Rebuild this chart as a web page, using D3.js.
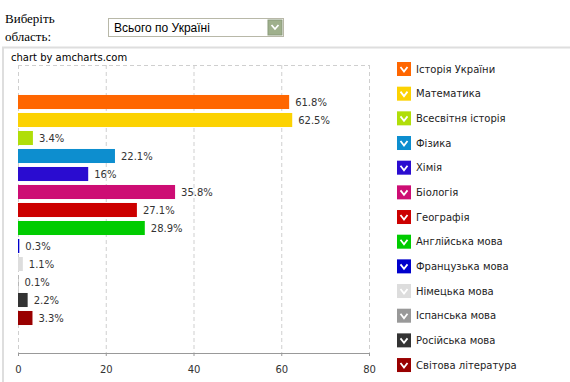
<!DOCTYPE html>
<html>
<head>
    <meta charset="utf-8">
    <title>ЗНО</title>
    <script src="https://cdn.jsdelivr.net/npm/d3@7/dist/d3.min.js"></script>
    <style>
        body { margin: 0; background: #fff; }
    </style>
</head>
<body>
    <svg width="570" height="382" id="mainSvg"></svg>
    <script>
        const subjects = ["Історія України", "Математика", "Всесвітня історія", "Фізика", "Хімія",
            "Біологія", "Географія", "Англійська мова", "Французька мова", "Німецька мова",
            "Іспанська мова", "Російська мова", "Світова література"];
        const values = [61.8, 62.5, 3.4, 22.1, 16, 35.8, 27.1, 28.9, 0.3, 1.1, 0.1, 2.2, 3.3];
        const colors = ["#FF6600", "#FCD202", "#B0DE09", "#0D8ECF", "#2A0CD0", "#CD0D74", "#CC0000",
            "#00CC00", "#0000CC", "#DDDDDD", "#999999", "#333333", "#990000"];
        const xTicks = [0, 20, 40, 60, 80];

        const svg = d3.select("#mainSvg");
        const font = "DejaVu Sans, Verdana, sans-serif";

        // header with the region selector
        svg.append("text").attr("x", 5).attr("y", 23)
            .attr("font-family", "Liberation Serif, serif").attr("font-size", 13).text("Виберіть");
        svg.append("text").attr("x", 5).attr("y", 41)
            .attr("font-family", "Liberation Serif, serif").attr("font-size", 13).text("область:");
        svg.append("rect").attr("x", 108.5).attr("y", 18.5).attr("width", 175).attr("height", 18)
            .attr("fill", "#fff").attr("stroke", "#b8b8a8");
        svg.append("text").attr("x", 114).attr("y", 32)
            .attr("font-family", "Arial, Liberation Sans, sans-serif").attr("font-size", 12).text("Всього по Україні");
        svg.append("rect").attr("x", 268).attr("y", 20).attr("width", 14).attr("height", 15)
            .attr("fill", "#9fb08c").attr("stroke", "#8a9a7a");
        svg.append("path").attr("d", "M271.5,25 L275,29 L278.5,25")
            .attr("fill", "none").attr("stroke", "#fff").attr("stroke-width", 1.8);

        // chart container border
        svg.append("path").attr("d", "M3,382 V47.5 H570")
            .attr("fill", "none").attr("stroke", "#dedede").attr("stroke-width", 2);
        svg.append("text").attr("x", 11).attr("y", 61)
            .attr("font-family", font).attr("font-size", 10).attr("fill", "#000").text("chart by amcharts.com");

        const plotTop = 65, plotBottom = 353;
        const x = d3.scaleLinear().domain([0, 80]).range([18, 369]);
        const y = d3.scaleBand().domain(subjects).range([93, 327]).paddingInner(0.22).paddingOuter(0.11);

        // grid
        const grid = svg.append("g").attr("stroke", "#cfcfcf").attr("stroke-dasharray", "4,3");
        grid.selectAll("line.v").data(xTicks).join("line")
            .attr("x1", d => x(d) + 0.5).attr("x2", d => x(d) + 0.5)
            .attr("y1", plotTop).attr("y2", plotBottom);
        grid.append("line").attr("x1", x(0)).attr("x2", x(80)).attr("y1", plotTop + 0.5).attr("y2", plotTop + 0.5);

        // axis
        const axis = svg.append("g").attr("transform", `translate(0,${plotBottom})`)
            .call(d3.axisBottom(x).tickValues(xTicks).tickSize(3).tickPadding(10));
        axis.select(".domain").attr("stroke", "#999").attr("d", `M${x(0)},0.5H${x(80)}`);
        axis.selectAll(".tick line").attr("stroke", "#999");
        axis.selectAll("text").attr("font-family", font).attr("font-size", 10).attr("fill", "#333");

        // bars
        svg.append("g").selectAll("rect").data(subjects).join("rect")
            .attr("x", x(0)).attr("y", d => y(d))
            .attr("width", (d, i) => x(values[i]) - x(0)).attr("height", y.bandwidth())
            .attr("fill", (d, i) => colors[i]);

        svg.append("g").selectAll("text").data(subjects).join("text")
            .attr("x", (d, i) => x(values[i]) + 6).attr("y", d => y(d) + y.bandwidth() / 2)
            .attr("dy", "0.35em")
            .attr("font-family", font).attr("font-size", 10).attr("fill", "#333")
            .text((d, i) => values[i] + "%");

        // legend
        const lg = svg.append("g").selectAll("g").data(subjects).join("g")
            .attr("transform", (d, i) => `translate(397,${62 + i * 24.67})`);
        lg.append("rect").attr("width", 14).attr("height", 14).attr("fill", (d, i) => colors[i]);
        lg.append("path").attr("d", "M3.5,5 L7,9.5 L10.5,5")
            .attr("fill", "none").attr("stroke", "#fff").attr("stroke-width", 1.8);
        lg.append("text").attr("x", 19).attr("y", 7).attr("dy", "0.35em")
            .attr("font-family", font).attr("font-size", 10).attr("fill", "#222")
            .text(d => d);
    </script>
</body>
</html>
